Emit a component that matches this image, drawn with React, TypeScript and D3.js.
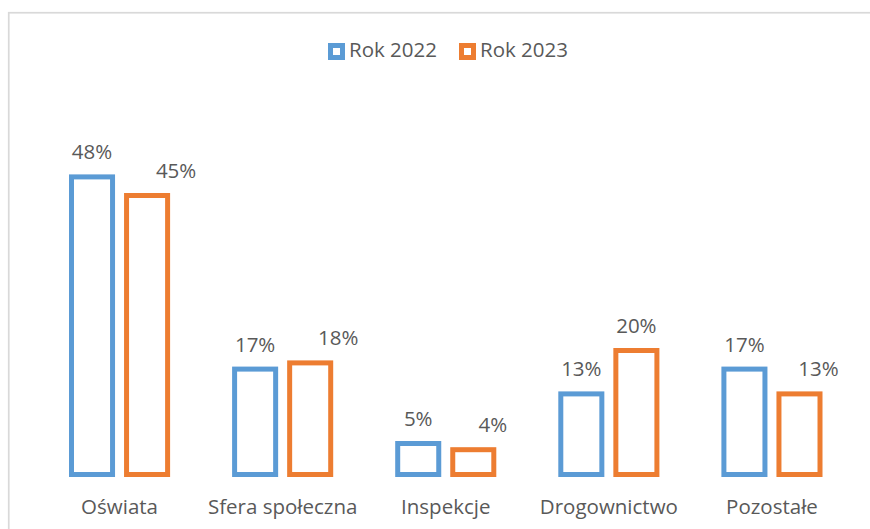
import * as d3 from "d3";

// chart data
const categories = ["Oświata", "Sfera społeczna", "Inspekcje", "Drogownictwo", "Pozostałe"];
const seriesNames = ["Rok 2022", "Rok 2023"];
const values2022 = [0.48, 0.17, 0.05, 0.13, 0.17];
const values2023 = [0.45, 0.18, 0.04, 0.20, 0.13];

// manual nudges of the 2023 data labels, as in the original chart
const labelNudge2023 = [29, 28, 19.5, 0, 19];

const W = 870;
const H = 529;
const colors = ["#5B9BD5", "#ED7D31"];
const textColor = "#595959";
const font = "'Open Sans', 'Liberation Sans', sans-serif";
const stroke = 5;

export default function App() {
  const x0 = d3.scaleBand<string>().domain(categories).range([38, 853.5]).padding(0);
  const x1 = d3
    .scaleBand<string>()
    .domain(seriesNames)
    .range([31, x0.bandwidth() - 31])
    .paddingInner(0.1636);
  const y = d3.scaleLinear().domain([0, 0.5]).range([474.5, 164.5]);
  const fmt = d3.format(".0%");

  const series = [values2022, values2023];

  return (
    <svg
      width={W}
      height={H}
      style={{ position: "absolute", left: 0, top: 0, background: "#fff" }}
      fontFamily={font}
    >
      <rect x={8.75} y={12.75} width={1000} height={1000} fill="none" stroke="#D9D9D9" strokeWidth={1.7} />

      {/* legend */}
      {seriesNames.map((name, i) => {
        const lx = i === 0 ? 328 : 459;
        return (
          <g key={name}>
            <rect
              x={lx + stroke / 2}
              y={43 + stroke / 2}
              width={17 - stroke}
              height={17 - stroke}
              fill="#fff"
              stroke={colors[i]}
              strokeWidth={stroke}
            />
            <text x={lx + 21} y={57} fontSize={20.5} fill={textColor}>
              {name}
            </text>
          </g>
        );
      })}

      {/* bars */}
      {series.map((vals, si) =>
        vals.map((v, ci) => {
          const bx = (x0(categories[ci]) ?? 0) + (x1(seriesNames[si]) ?? 0);
          const bw = x1.bandwidth();
          const top = y(v);
          const nudge = si === 1 ? labelNudge2023[ci] : 0;
          return (
            <g key={`${si}-${ci}`}>
              <rect
                x={bx + stroke / 2}
                y={top}
                width={bw - stroke}
                height={y(0) - top}
                fill="#fff"
                stroke={colors[si]}
                strokeWidth={stroke}
              />
              <text
                x={bx + bw / 2 + nudge}
                y={top - 17.5}
                textAnchor="middle"
                fontSize={20.5}
                fill={textColor}
              >
                {fmt(v)}
              </text>
            </g>
          );
        })
      )}

      {/* category labels */}
      {categories.map((c) => (
        <text
          key={c}
          x={(x0(c) ?? 0) + x0.bandwidth() / 2}
          y={513.5}
          textAnchor="middle"
          fontSize={20.5}
          fill={textColor}
        >
          {c}
        </text>
      ))}
    </svg>
  );
}
